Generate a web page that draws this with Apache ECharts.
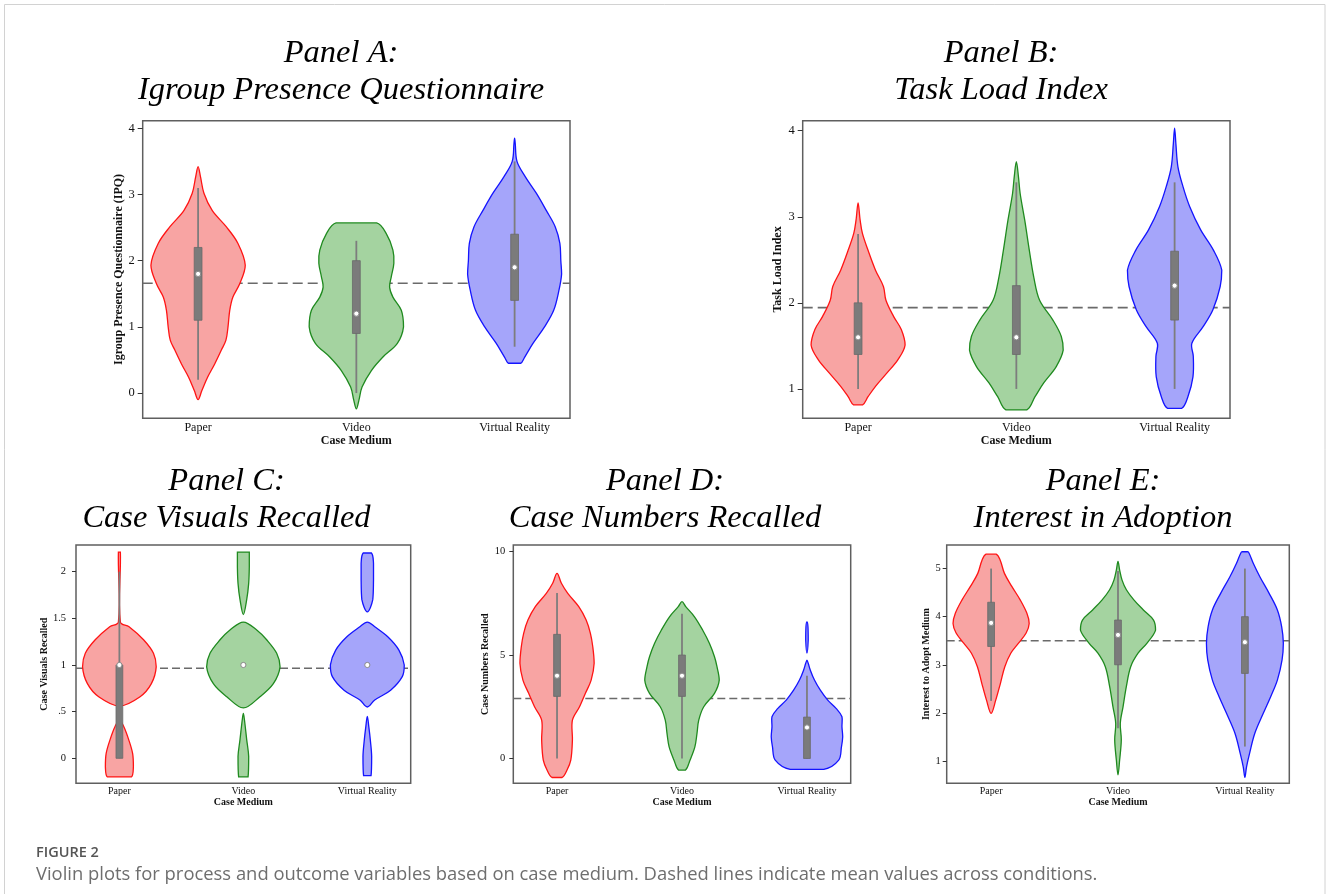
<!DOCTYPE html>
<html>
<head>
<meta charset="utf-8">
<script src="https://cdn.jsdelivr.net/npm/echarts/dist/echarts.min.js"></script>
<style>
  html, body { margin: 0; padding: 0; background: #ffffff; }
  #chart { width: 1328px; height: 894px; }
</style>
</head>
<body>
<div id="chart"></div>
<script>
// ---------------- DATA ----------------
const categories = ['Paper', 'Video', 'Virtual Reality'];
const panelTitles = [
  'Panel A:\nIgroup Presence Questionnaire',
  'Panel B:\nTask Load Index',
  'Panel C:\nCase Visuals Recalled',
  'Panel D:\nCase Numbers Recalled',
  'Panel E:\nInterest in Adoption'
];
const yAxisNames = [
  'Igroup Presence Questionnaire (IPQ)',
  'Task Load Index',
  'Case Visuals Recalled',
  'Case Numbers Recalled',
  'Interest to Adopt Medium'
];
const xAxisName = 'Case Medium';
const yTickValues = [
  [0, 1, 2, 3, 4],
  [1, 2, 3, 4],
  [0, 0.5, 1, 1.5, 2],
  [0, 5, 10],
  [1, 2, 3, 4, 5]
];
const meanValues = [1.66, 1.945, 0.965, 2.9, 3.5];
const captionLabel = 'FIGURE 2';
const captionText = 'Violin plots for process and outcome variables based on case medium. Dashed lines indicate mean values across conditions.';

// violin outlines: [value, half-width in category units]; null = gap between pieces
const ipqPaper = [[-0.10,0],[0.04,0.024],[0.24,0.06],[0.44,0.105],[0.65,0.147],[0.8,0.176],[1.0,0.189],[1.25,0.2],[1.45,0.22],[1.65,0.263],[1.93,0.298],[2.26,0.252],[2.51,0.179],[2.76,0.089],[3.02,0.037],[3.27,0.015],[3.42,0]];
const ipqVideo = [[-0.24,0],[-0.11,0.016],[0.09,0.036],[0.34,0.095],[0.545,0.168],[0.75,0.259],[1.0,0.298],[1.25,0.284],[1.45,0.231],[1.6,0.21],[1.76,0.221],[1.96,0.237],[2.16,0.231],[2.41,0.189],[2.57,0.128]];
const ipqVR    = [[0.45,0.038],[0.54,0.063],[0.75,0.116],[1.0,0.189],[1.25,0.247],[1.55,0.28],[1.8,0.297],[2.0,0.292],[2.26,0.286],[2.51,0.257],[2.76,0.2],[3.02,0.137],[3.27,0.067],[3.5,0.015],[3.77,0.004],[3.85,0]];

const tliPaper = [[0.814,0.028],[0.91,0.063],[1.03,0.11],[1.18,0.18],[1.34,0.252],[1.51,0.297],[1.69,0.273],[1.84,0.225],[2.03,0.176],[2.19,0.16],[2.38,0.11],[2.61,0.063],[2.81,0.027],[2.96,0.013],[3.16,0]];
const tliVideo = [[0.756,0.066],[0.91,0.118],[1.07,0.173],[1.26,0.252],[1.45,0.296],[1.61,0.284],[1.8,0.231],[2.03,0.147],[2.3,0.11],[2.61,0.082],[2.96,0.053],[3.27,0.024],[3.47,0.013],[3.64,0]];
const tliVR    = [[0.775,0.045],[0.91,0.084],[1.14,0.116],[1.38,0.118],[1.53,0.109],[1.72,0.179],[1.92,0.242],[2.19,0.288],[2.38,0.298],[2.61,0.246],[2.85,0.164],[3.12,0.095],[3.35,0.053],[3.58,0.021],[3.85,0.008],[4.03,0]];

const cvrPaper = [[-0.2,0.097],[-0.09,0.113],[0.05,0.107],[0.2,0.075],[0.34,0.035],[0.41,0],null,[0.56,0],[0.66,0.167],[0.8,0.258],[0.98,0.297],[1.125,0.275],[1.27,0.195],[1.41,0.078],[1.46,0.008],[2.21,0.008]];
const cvrVideo = [[-0.2,0.038],[0.02,0.043],[0.2,0.027],[0.41,0.009],[0.48,0],null,[0.54,0],[0.66,0.134],[0.8,0.242],[0.98,0.296],[1.125,0.269],[1.27,0.188],[1.375,0.108],[1.46,0],null,[1.54,0],[1.7,0.027],[1.875,0.043],[2.05,0.048],[2.21,0.048]];
const cvrVR    = [[-0.186,0.03],[0.02,0.035],[0.2,0.024],[0.34,0.012],[0.45,0],null,[0.55,0],[0.625,0.06],[0.73,0.188],[0.875,0.282],[1.0,0.298],[1.16,0.255],[1.3,0.167],[1.41,0.06],[1.46,0],null,[1.57,0],[1.7,0.044],[1.91,0.05],[2.09,0.05],[2.2,0.033]];

const cnrPaper = [[-0.92,0.04],[-0.56,0.08],[-0.08,0.11],[0.89,0.123],[1.85,0.123],[2.5,0.18],[3.15,0.227],[3.79,0.273],[4.6,0.297],[5.4,0.286],[6.05,0.267],[6.69,0.233],[7.34,0.174],[7.98,0.086],[8.47,0.035],[8.95,0]];
const cnrVideo = [[-0.56,0.028],[-0.08,0.064],[0.56,0.103],[1.21,0.12],[1.85,0.134],[2.5,0.174],[3.15,0.26],[3.79,0.298],[4.44,0.28],[4.92,0.26],[5.56,0.22],[6.2,0.166],[6.85,0.1],[7.34,0.03],[7.58,0]];
const cnrVR    = [[-0.53,0.134],[-0.08,0.254],[0.56,0.276],[1.05,0.286],[1.53,0.28],[2.02,0.28],[2.42,0.233],[2.82,0.166],[3.3,0.107],[3.79,0.06],[4.27,0.027],[4.6,0.01],[4.75,0],null,[5.1,0],[5.73,0.01],[6.37,0.008],[6.6,0]];

const aimPaper = [[1.99,0],[2.27,0.037],[2.62,0.074],[2.96,0.108],[3.24,0.155],[3.45,0.216],[3.66,0.276],[3.86,0.3],[4.07,0.282],[4.35,0.229],[4.63,0.163],[4.9,0.105],[5.18,0.071],[5.3,0.04]];
const aimVideo = [[0.71,0],[1.02,0.013],[1.44,0.026],[1.78,0.018],[2.13,0.04],[2.55,0.066],[2.96,0.1],[3.24,0.158],[3.45,0.229],[3.72,0.296],[3.93,0.28],[4.14,0.2],[4.35,0.125],[4.56,0.066],[4.76,0.032],[4.97,0.013],[5.15,0]];
const aimVR    = [[0.66,0],[0.88,0.013],[1.16,0.037],[1.58,0.079],[1.99,0.145],[2.34,0.204],[2.68,0.256],[3.1,0.293],[3.45,0.303],[3.79,0.29],[4.14,0.256],[4.49,0.19],[4.83,0.118],[5.11,0.066],[5.32,0.033],[5.35,0.02]];

// box stats per group: [lower whisker, Q1, median, Q3, upper whisker]
const ipqBoxes = [[0.2,1.1,1.8,2.2,3.1],[0,0.9,1.2,2.0,2.3],[0.7,1.4,1.9,2.4,3.5]];
const tliBoxes = [[1.0,1.4,1.6,2.0,2.8],[1.0,1.4,1.6,2.2,3.4],[1.0,1.8,2.2,2.6,3.4]];
const cvrBoxes = [[0,0,1,1,2],[1,1,1,1,1],[1,1,1,1,1]];
const cnrBoxes = [[0,3,4,6,8],[0,3,4,5,7],[0,0,1.5,2,4]];
const aimBoxes = [[2.25,3.38,3.87,4.3,5.0],[1.68,3.0,3.62,3.93,4.95],[1.3,2.82,3.47,4.0,5.0]];

const violinSets = [[ipqPaper, ipqVideo, ipqVR],[tliPaper, tliVideo, tliVR],[cvrPaper, cvrVideo, cvrVR],[cnrPaper, cnrVideo, cnrVR],[aimPaper, aimVideo, aimVR]];
const boxSets = [ipqBoxes, tliBoxes, cvrBoxes, cnrBoxes, aimBoxes];

// ---------------- LAYOUT / STYLE ----------------
const fillColors = ['#f8a4a3', '#a4d3a0', '#a5a5fa'];
const lineColors = ['#ff1414', '#1f8a1f', '#1414ff'];
const serif = "'Liberation Serif', 'Times New Roman', serif";
const panels = [
  { grid: {left: 142.7, top: 120.7, width: 427.3, height: 297.5}, yMin: -0.38, yMax: 4.115, titleX: 341, titleY: 35, row: 0, nameGap: 18, labelMargin: 8 },
  { grid: {left: 802.7, top: 120.7, width: 427.3, height: 297.5}, yMin: 0.66, yMax: 4.116, titleX: 1001, titleY: 35, row: 0, nameGap: 19, labelMargin: 8 },
  { grid: {left: 76, top: 545, width: 334.7, height: 238.3}, yMin: -0.268, yMax: 2.286, titleX: 226.5, titleY: 463, row: 1, nameGap: 23, labelMargin: 10 },
  { grid: {left: 513.3, top: 545, width: 337.4, height: 238.3}, yMin: -1.2, yMax: 10.32, titleX: 665, titleY: 463, row: 1, nameGap: 20.5, labelMargin: 8 },
  { grid: {left: 946.7, top: 545, width: 342.6, height: 238.3}, yMin: 0.536, yMax: 5.49, titleX: 1103, titleY: 463, row: 1, nameGap: 14.5, labelMargin: 6 }
];
const rowStyle = [
  { tickFont: 12.5, catFont: 12, nameFont: 12, xLabelMargin: 4, xNameGap: 16, tickLen: 5, boxHalf: 3.9, dash: [10, 5], meanWidth: 1.6 },
  { tickFont: 10.5, catFont: 10, nameFont: 10, xLabelMargin: 3.5, xNameGap: 13, tickLen: 4, boxHalf: 3.4, dash: [8, 4], meanWidth: 1.4 }
];

function splitPieces(profile) {
  const out = []; let cur = [];
  profile.forEach(p => { if (p === null) { if (cur.length) out.push(cur); cur = []; } else cur.push(p); });
  if (cur.length) out.push(cur);
  return out;
}

function violinRender(profiles) {
  return function (params, api) {
    const g = params.dataIndex;
    const cx = api.value(0);
    const children = [];
    splitPieces(profiles[g]).forEach(piece => {
      const pts = [];
      piece.forEach(([y, w]) => pts.push(api.coord([cx - w, y])));
      for (let i = piece.length - 1; i >= 0; i--) { const [y, w] = piece[i]; pts.push(api.coord([cx + w, y])); }
      const res = [];
      pts.forEach(p => {
        const last = res[res.length - 1];
        if (!last || Math.abs(last[0] - p[0]) > 0.05 || Math.abs(last[1] - p[1]) > 0.05) res.push(p);
      });
      if (res.length > 2) {
        const f = res[0], l = res[res.length - 1];
        if (Math.abs(f[0] - l[0]) < 0.05 && Math.abs(f[1] - l[1]) < 0.05) res.pop();
      }
      let minX = Infinity, minY = Infinity, maxX = -Infinity, maxY = -Infinity;
      res.forEach(p => { minX = Math.min(minX, p[0]); maxX = Math.max(maxX, p[0]); minY = Math.min(minY, p[1]); maxY = Math.max(maxY, p[1]); });
      children.push({
        type: 'polygon',
        shape: { points: res, smooth: 0.35, smoothConstraint: [[minX, minY], [maxX, maxY]] },
        style: { fill: fillColors[g], stroke: lineColors[g], lineWidth: 1.3 }
      });
    });
    return { type: 'group', children };
  };
}

function boxRender(stats, halfPx) {
  return function (params, api) {
    const g = params.dataIndex;
    const cx = api.value(0);
    const [lo, q1, med, q3, hi] = stats[g];
    const children = [];
    if (hi > lo) {
      const a = api.coord([cx, lo]), b = api.coord([cx, hi]);
      children.push({ type: 'line', shape: { x1: a[0], y1: a[1], x2: b[0], y2: b[1] }, style: { stroke: '#7d7d7d', lineWidth: 1.8 } });
    }
    if (q3 > q1) {
      const a = api.coord([cx, q1]), b = api.coord([cx, q3]);
      children.push({ type: 'rect', shape: { x: a[0] - halfPx, y: b[1], width: halfPx * 2, height: a[1] - b[1] }, style: { fill: '#7b7b7b', stroke: '#6a6a6a', lineWidth: 0.8 } });
    }
    const m = api.coord([cx, med]);
    children.push({ type: 'circle', shape: { cx: m[0], cy: m[1], r: 2.6 }, style: { fill: '#ffffff', stroke: '#8a8a8a', lineWidth: 1 } });
    return { type: 'group', children };
  };
}

const grids = [], xAxes = [], yAxes = [], series = [], graphics = [];
panels.forEach((p, i) => {
  const rs = rowStyle[p.row];
  grids.push(Object.assign({ show: true, borderColor: '#5f5f5f', borderWidth: 1.5, backgroundColor: 'transparent', containLabel: false }, p.grid));
  xAxes.push({
    type: 'value', gridIndex: i, min: 0.65, max: 3.35,
    axisLine: { show: false }, axisTick: { show: false }, splitLine: { show: false },
    axisLabel: { customValues: [1, 2, 3], formatter: v => categories[Math.round(v) - 1], fontFamily: serif, fontSize: rs.catFont, color: '#111', margin: rs.xLabelMargin },
    name: xAxisName, nameLocation: 'middle', nameGap: rs.xNameGap,
    nameTextStyle: { fontFamily: serif, fontWeight: 'bold', fontSize: rs.nameFont, color: '#111' }
  });
  yAxes.push({
    type: 'value', gridIndex: i, min: p.yMin, max: p.yMax,
    axisLine: { show: false }, splitLine: { show: false },
    axisTick: { show: true, length: rs.tickLen, customValues: yTickValues[i], lineStyle: { color: '#333', width: 1 } },
    axisLabel: { customValues: yTickValues[i], formatter: v => (i === 2 && v === 0.5) ? '.5' : String(v), fontFamily: serif, fontSize: rs.tickFont, color: '#111', margin: p.labelMargin },
    name: yAxisNames[i], nameLocation: 'middle', nameGap: p.nameGap,
    nameTextStyle: { fontFamily: serif, fontWeight: 'bold', fontSize: rs.nameFont, color: '#111' }
  });
  series.push({
    type: 'line', xAxisIndex: i, yAxisIndex: i, z: 1, silent: true, symbol: 'none',
    data: [[0.65, meanValues[i]], [3.35, meanValues[i]]],
    lineStyle: { color: '#6a6a6a', width: rs.meanWidth, type: rs.dash }
  });
  const groupData = categories.map((c, g) => [g + 1, boxSets[i][g][2]]);
  series.push({
    type: 'custom', coordinateSystem: 'cartesian2d', xAxisIndex: i, yAxisIndex: i, z: 2, silent: true,
    renderItem: violinRender(violinSets[i]), data: groupData
  });
  series.push({
    type: 'custom', coordinateSystem: 'cartesian2d', xAxisIndex: i, yAxisIndex: i, z: 3, silent: true,
    renderItem: boxRender(boxSets[i], rs.boxHalf), data: groupData
  });
  graphics.push({
    type: 'text', x: p.titleX, y: p.titleY, silent: true,
    style: { text: panelTitles[i], fill: '#000', font: "italic 32.5px 'Liberation Serif'", align: 'center', verticalAlign: 'top', lineHeight: 37 }
  });
});

graphics.push({ type: 'rect', silent: true, shape: { x: 4.5, y: 4.5, width: 1320.5, height: 1000 }, style: { fill: 'none', stroke: '#d2d2d2', lineWidth: 1 } });
graphics.push({ type: 'text', x: 36, y: 845, silent: true, style: { text: captionLabel, fill: '#555', font: "600 14.5px 'Open Sans'", align: 'left', verticalAlign: 'alphabetic' } });
graphics.push({ type: 'text', x: 36, y: 866, silent: true, style: { text: captionText, fill: '#6e6e6e', font: "18.4px 'Open Sans'", align: 'left', verticalAlign: 'alphabetic' } });

const chart = echarts.init(document.getElementById('chart'), null, { renderer: 'canvas' });
chart.setOption({
  animation: false,
  backgroundColor: '#ffffff',
  grid: grids, xAxis: xAxes, yAxis: yAxes, series: series, graphic: graphics
});
</script>
</body>
</html>
